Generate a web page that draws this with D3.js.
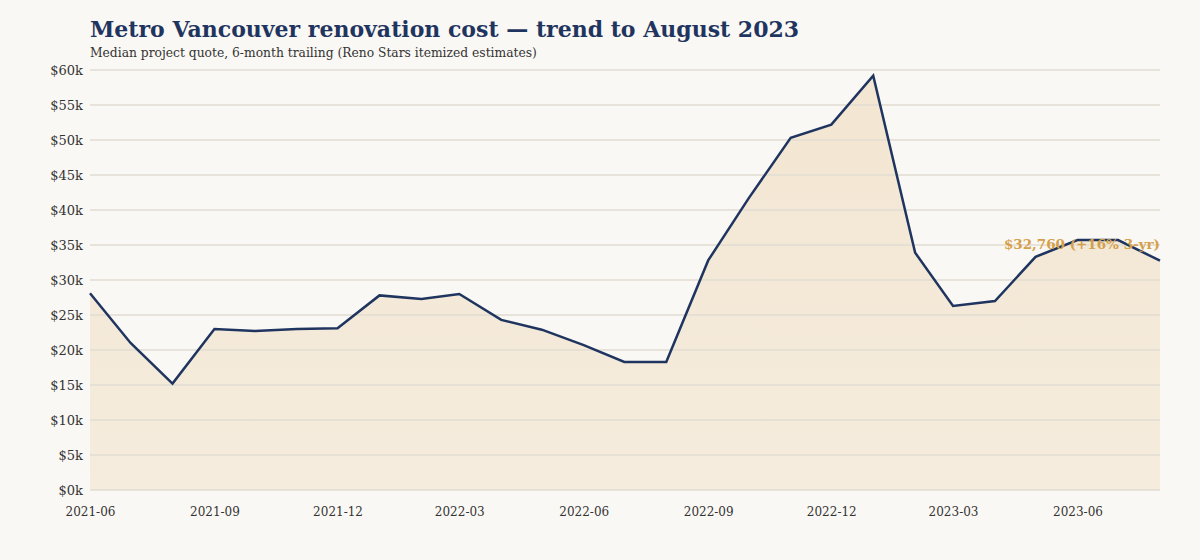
<!DOCTYPE html>
<html>
<head>
<meta charset="utf-8">
<script src="https://cdn.jsdelivr.net/npm/d3@7"></script>
<style>
  html, body { margin: 0; padding: 0; background: #faf8f4; }
  svg { display: block; }
  text { font-family: Georgia, "DejaVu Serif", "Liberation Serif", serif; }
</style>
</head>
<body>
<svg id="chart" width="1200" height="560"></svg>
<script>
const months = ["2021-06","2021-07","2021-08","2021-09","2021-10","2021-11","2021-12",
  "2022-01","2022-02","2022-03","2022-04","2022-05","2022-06","2022-07","2022-08","2022-09",
  "2022-10","2022-11","2022-12","2023-01","2023-02","2023-03","2023-04","2023-05","2023-06",
  "2023-07","2023-08"];
const medianQuote = [28100, 21000, 15200, 23000, 22700, 23000, 23100,
  27800, 27300, 28000, 24300, 22900, 20700, 18300, 18300, 32800,
  41700, 50300, 52200, 59200, 33900, 26300, 27000, 33300, 35700,
  35700, 32760];
const yTicks = [0, 5000, 10000, 15000, 20000, 25000, 30000, 35000, 40000, 45000, 50000, 55000, 60000];
const xTickLabels = ["2021-06","2021-09","2021-12","2022-03","2022-06","2022-09","2022-12","2023-03","2023-06"];
const titleText = "Metro Vancouver renovation cost \u2014 trend to August 2023";
const subtitleText = "Median project quote, 6-month trailing (Reno Stars itemized estimates)";
const annotationText = "$32,760 (+16% 3-yr)";

const parse = d3.utcParse("%Y-%m");
const fmt = d3.utcFormat("%Y-%m");
const data = months.map((m, i) => ({ date: parse(m), value: medianQuote[i] }));

const svg = d3.select("#chart");
const mLeft = 90, mRight = 1160, mTop = 70, mBottom = 490;

const x = d3.scaleUtc().domain(d3.extent(data, d => d.date)).range([mLeft, mRight]);
const y = d3.scaleLinear().domain([0, 60000]).range([mBottom, mTop]);

svg.append("rect").attr("width", 1200).attr("height", 560).attr("fill", "#faf8f4");

const defs = svg.append("defs");
const grad = defs.append("linearGradient").attr("id", "areaGrad")
  .attr("x1", 0).attr("y1", 0).attr("x2", 0).attr("y2", 1);
grad.append("stop").attr("offset", "0%").attr("stop-color", "#f3e6d2");
grad.append("stop").attr("offset", "100%").attr("stop-color", "#f5ecdd");

// area
const area = d3.area().x(d => x(d.date)).y0(y(0)).y1(d => y(d.value));
svg.append("path").datum(data).attr("d", area).attr("fill", "url(#areaGrad)");

// grid lines
svg.append("g").selectAll("line").data(yTicks).join("line")
  .attr("x1", mLeft).attr("x2", mRight)
  .attr("y1", d => y(d)).attr("y2", d => y(d))
  .attr("stroke", "#e2dcd2").attr("stroke-width", 1.5);

// y axis labels
const yAxis = d3.axisLeft(y).tickValues(yTicks).tickSize(0).tickPadding(7)
  .tickFormat(d => "$" + (d / 1000) + "k");
const gy = svg.append("g").attr("transform", `translate(${mLeft},0)`).call(yAxis);
gy.select(".domain").remove();
gy.selectAll("text").attr("font-size", 13).attr("fill", "#333")
  .style("font-family", 'Georgia, "DejaVu Serif", serif');

// x axis
const xAxis = d3.axisBottom(x).tickValues(xTickLabels.map(parse)).tickSize(0).tickPadding(17)
  .tickFormat(fmt);
const gx = svg.append("g").attr("transform", `translate(0,${mBottom})`).call(xAxis);
gx.select(".domain").remove();
gx.selectAll("text").attr("font-size", 12).attr("fill", "#333")
  .style("font-family", 'Georgia, "DejaVu Serif", serif');

// line
const line = d3.line().x(d => x(d.date)).y(d => y(d.value));
svg.append("path").datum(data).attr("d", line)
  .attr("fill", "none").attr("stroke", "#1f3560").attr("stroke-width", 2.5)
  .attr("stroke-linejoin", "miter");

// annotation
const last = data[data.length - 1];
svg.append("text").attr("x", x(last.date)).attr("y", y(35000) + 4)
  .attr("text-anchor", "end").attr("font-size", 13.5).attr("font-weight", "bold")
  .attr("fill", "#d4a04a").text(annotationText);

// titles
svg.append("text").attr("x", mLeft).attr("y", 37).attr("font-size", 22).attr("font-weight", "bold")
  .attr("fill", "#1f3560").text(titleText);
svg.append("text").attr("x", mLeft).attr("y", 57).attr("font-size", 12.3)
  .attr("fill", "#333").text(subtitleText);
</script>
</body>
</html>
